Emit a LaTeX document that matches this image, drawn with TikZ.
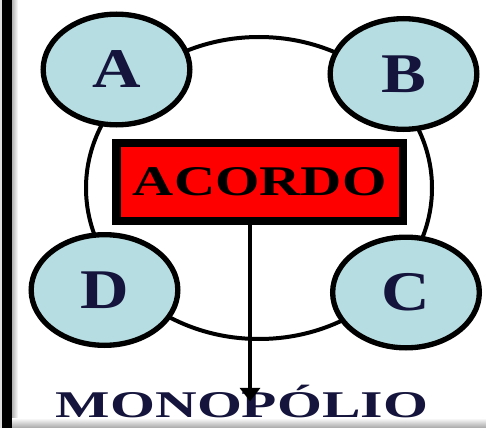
\documentclass[tikz,border=0pt]{standalone}
\usepackage{fontspec}
\setmainfont{Liberation Serif}
\usetikzlibrary{shapes.geometric,arrows.meta}

\definecolor{azulclaro}{HTML}{B6DDE1}
\definecolor{azulescuro}{HTML}{14143C}

\tikzset{
  empresa/.style={draw, ellipse, fill=azulclaro, line width=4pt, inner sep=0pt,
    minimum width=110pt, minimum height=83pt, text=azulescuro,
    font=\bfseries\fontsize{42}{42}\selectfont},
  anel/.style={draw, ellipse, line width=3pt, minimum width=259.5pt, minimum height=226.5pt},
  caixa/.style={draw, fill=red, line width=6.4pt, inner sep=0pt,
    minimum width=214.9pt, minimum height=58.5pt, font=\bfseries\fontsize{31.7}{32}\selectfont},
  seta/.style={line width=3pt, -{Triangle[width=15pt,length=10pt]}, shorten >=5pt}
}

\begin{document}
\begin{tikzpicture}[x=0.75pt, y=-0.75pt]
  \useasboundingbox (0,0) rectangle (486,428);
  % moldura
  \fill[gray!25] (0,0) rectangle (2,428);
  \fill[black] (2,0) rectangle (12,428);
  \shade[left color=gray!60, right color=white] (12,0) rectangle (18,428);
  \shade[top color=white, bottom color=gray!70] (12,418) rectangle (486,428);

  % anel do cartel
  \node[anel] (cartel) at (259,188) {};

  \node[empresa] (A) at (116.5,69.5) {\scalebox{1.2}[1]{A}};
  \node[empresa] (B) at (403.5,74) {\scalebox{1.2}[1]{B}};
  \node[empresa] (D) at (104.5,290) {\scalebox{1.2}[1]{D}};
  \node[empresa] (C) at (406,292.5) {\scalebox{1.2}[1]{C}};

  \node[caixa] (acordo) at (259.75,182) {\scalebox{1.35}[1]{ACORDO}};

  \node[anchor=base, inner sep=0pt, text height=0.66em, text=azulescuro,
    font=\bfseries\fontsize{28.3}{29}\selectfont] (monopolio) at (242,417)
    {\scalebox{1.53}[1]{MONOPÓLIO}};

  \coordinate (saida) at ([xshift=-7.3pt]acordo.south);
  \draw[seta] (saida) -- (saida |- monopolio.north);
\end{tikzpicture}
\end{document}
